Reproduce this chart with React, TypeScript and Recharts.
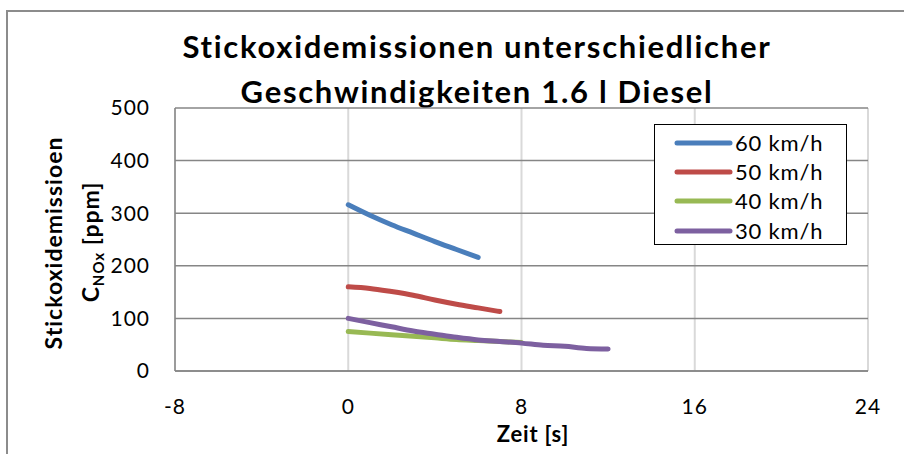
import React from 'react';
import { LineChart, Line, XAxis, YAxis, CartesianGrid } from 'recharts';

// Zeit [s] und Stickoxid-Konzentration [ppm] je Geschwindigkeit
const time60 = [0, 1, 2, 3, 4, 5, 6];
const nox60 = [316, 296, 278, 262, 246, 231, 216];

const time50 = [0, 1, 2, 3, 4, 5, 6, 7];
const nox50 = [160, 157, 151, 144, 135, 127, 120, 113];

const time40 = [0, 1, 2, 3, 4, 5, 6, 7, 8];
const nox40 = [75, 72, 69, 66, 63, 60, 58, 56, 54];

const time30 = [0, 1, 2, 3, 4, 5, 6, 7, 8, 9, 10, 11, 12];
const nox30 = [100, 92, 84, 76, 70, 64, 59, 56, 53, 49, 47, 43, 42];

const xTicks = [-8, 0, 8, 16, 24];
const yTicks = [0, 100, 200, 300, 400, 500];

const FONT = 'Lato, "Open Sans", sans-serif';

const zip = (xs: number[], ys: number[]) => xs.map((x, i) => ({ x, y: ys[i] }));

const SERIES = [
  { name: '60 km/h', color: '#4a7ebb', data: zip(time60, nox60) },
  { name: '50 km/h', color: '#be4b48', data: zip(time50, nox50) },
  { name: '40 km/h', color: '#98b954', data: zip(time40, nox40) },
  { name: '30 km/h', color: '#7d60a0', data: zip(time30, nox30) },
];

const LegendBox = () => (
  <div
    style={{
      position: 'absolute',
      left: 654,
      top: 124,
      width: 193,
      height: 121,
      border: '1.5px solid #000',
      background: '#fff',
      boxSizing: 'border-box',
      paddingTop: 3,
    }}
  >
    {SERIES.map(s => (
      <div key={s.name} style={{ display: 'flex', alignItems: 'center', height: 29.3 }}>
        <svg width={80} height={10} style={{ flex: 'none' }}>
          <line x1={22} y1={5} x2={75} y2={5} stroke={s.color} strokeWidth={5} strokeLinecap="round" />
        </svg>
        <span style={{ fontFamily: FONT, fontSize: 22, color: '#000', lineHeight: '22px', letterSpacing: 0.8 }}>
          {s.name}
        </span>
      </div>
    ))}
  </div>
);

const YTitle = () => (
  <g fontFamily={FONT} fontWeight="bold" fill="#000">
    <text x={0} y={0} transform="translate(62, 243) rotate(-90)" textAnchor="middle" fontSize={23} letterSpacing={1}>
      Stickoxidemissioen
    </text>
    <text x={0} y={0} transform="translate(99, 242) rotate(-90)" textAnchor="middle" fontSize={23} letterSpacing={1}>
      C<tspan fontSize={15} dy={5}>NOx</tspan>
      <tspan dy={-5}> [ppm]</tspan>
    </text>
  </g>
);

export default function App() {
  return (
    <div style={{ position: 'fixed', left: 0, top: 0, width: 904, height: 454, overflow: 'hidden', background: '#fff' }}>
      <div
        style={{
          position: 'absolute',
          left: 6,
          top: 10,
          width: 960,
          height: 500,
          border: '2px solid #8c8c8c',
        }}
      />
      <div
        style={{
          position: 'absolute',
          left: 0,
          width: 954,
          top: 24,
          textAlign: 'center',
          fontFamily: FONT,
          fontWeight: 'bold',
          fontSize: 31,
          lineHeight: '45px',
          letterSpacing: 1.7,
          color: '#000',
        }}
      >
        Stickoxidemissionen unterschiedlicher
        <br />
        Geschwindigkeiten 1.6 l Diesel
      </div>
      <div style={{ position: 'absolute', left: 0, top: 0 }}>
        <LineChart width={904} height={454} margin={{ top: 108, right: 36, bottom: 0, left: 0 }}>
          <CartesianGrid horizontal={false} stroke="#d9d9d9" strokeWidth={2} />
          <CartesianGrid vertical={false} stroke="#868686" strokeWidth={1.5} />
          <XAxis
            type="number"
            dataKey="x"
            domain={[-8, 24]}
            ticks={xTicks}
            interval={0}
            height={83}
            axisLine={{ stroke: '#868686', strokeWidth: 1.5 }}
            tickLine={false}
            tickSize={0}
            tickMargin={28}
            tick={{ fill: '#000', fontSize: 21, fontFamily: FONT, letterSpacing: 1 }}
            label={() => (
              <text
                x={533}
                y={442}
                textAnchor="middle"
                fontFamily={FONT}
                fontWeight="bold"
                fontSize={22}
                letterSpacing={0.8}
                fill="#000"
              >
                Zeit [s]
              </text>
            )}
          />
          <YAxis
            type="number"
            domain={[0, 500]}
            ticks={yTicks}
            interval={0}
            width={175}
            axisLine={{ stroke: '#868686', strokeWidth: 1.5 }}
            tickLine={false}
            tickSize={0}
            tickMargin={25}
            tick={{ fill: '#000', fontSize: 21, fontFamily: FONT, letterSpacing: 1 }}
            label={() => <YTitle />}
          />
          {SERIES.map(s => (
            <Line
              key={s.name}
              data={s.data}
              dataKey="y"
              name={s.name}
              type="monotone"
              stroke={s.color}
              strokeWidth={5}
              strokeLinecap="round"
              dot={false}
              activeDot={false}
              isAnimationActive={false}
            />
          ))}
        </LineChart>
      </div>
      <LegendBox />
    </div>
  );
}
